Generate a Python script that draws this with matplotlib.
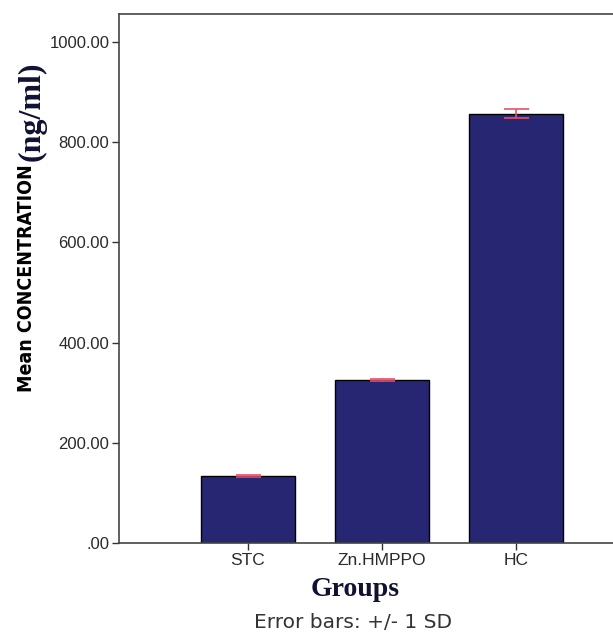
import matplotlib
matplotlib.use("Agg")
import matplotlib.pyplot as plt
import numpy as np

# data
groups = ["STC", "Zn.HMPPO", "HC"]
means = [134.0, 325.0, 857.0]
sds = [2.0, 2.5, 9.0]
y_ticks = [0, 200, 400, 600, 800, 1000]
y_tick_labels = [".00", "200.00", "400.00", "600.00", "800.00", "1000.00"]

W, H = 613, 633
fig = plt.figure(figsize=(W / 100, H / 100), dpi=100)

# axes box in pixels: left 119, top 14, bottom 543, right spine off-canvas
left, top, bottom, right = 119, 14, 543, 645
ax = fig.add_axes([left / W, 1 - bottom / H, (right - left) / W, (bottom - top) / H])

x = np.arange(len(groups))
ax.bar(x, means, width=0.7, color="#262672", edgecolor="black", linewidth=1.0, zorder=2)
ax.errorbar(x, means, yerr=sds, fmt="none", ecolor="#e8506a", elinewidth=1.2,
            capsize=9, capthick=1.2, zorder=3)

ax.set_xlim(-0.96, 2.96)
ax.set_ylim(0, 1056)
ax.set_xticks(x)
ax.set_xticklabels(groups, fontsize=12.5, family="Liberation Sans", color="#2a2a2a")
ax.set_yticks(y_ticks)
ax.set_yticklabels(y_tick_labels, fontsize=12, family="Liberation Sans", color="#2a2a2a")
ax.tick_params(axis="both", length=5, width=1.0, color="#333333", pad=2)

for s in ["left", "top", "bottom", "right"]:
    ax.spines[s].set_color("#444444")
    ax.spines[s].set_linewidth(1.2)

# y label: sans part + serif units, stacked along the axis
fig.text(27 / W, 1 - 392 / H, "Mean CONCENTRATION", rotation=90, ha="center", va="bottom",
         fontsize=14, fontweight="bold", family="Liberation Sans Narrow", fontstretch="condensed")
fig.text(32 / W, 1 - 161 / H, "(ng/ml)", rotation=90, ha="center", va="bottom",
         fontsize=23, fontweight="bold", family="Liberation Serif", color="#111133")

fig.text(355 / W, 1 - 589 / H, "Groups", ha="center", va="center",
         fontsize=20, fontweight="bold", family="Liberation Serif", color="#111133")
fig.text(353 / W, 1 - 623 / H, "Error bars: +/- 1 SD", ha="center", va="center",
         fontsize=14.5, family="DejaVu Sans", color="#333333")

fig.savefig("out.png", dpi=100)
